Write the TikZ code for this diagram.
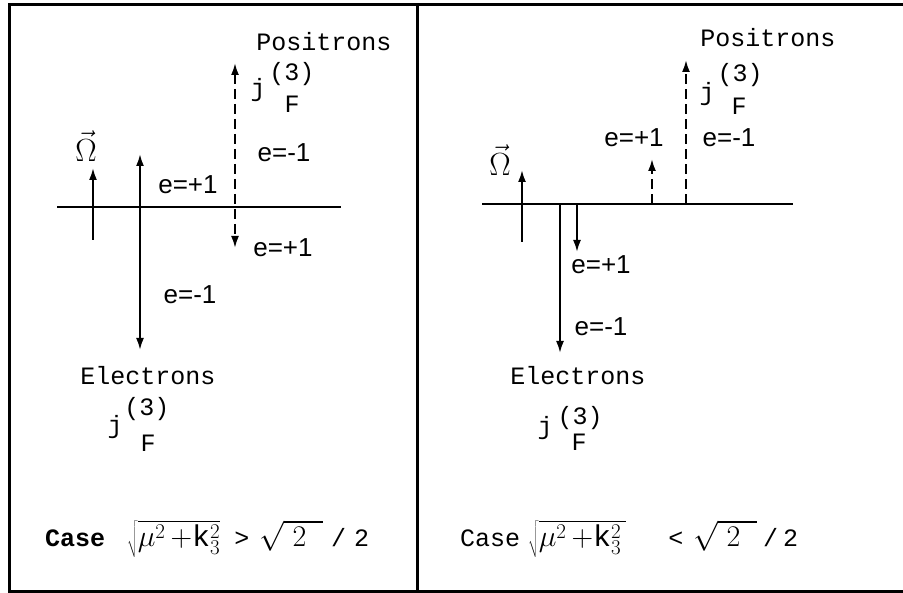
\documentclass[tikz,border=0pt]{standalone}
\usepackage{fix-cm}
\usepackage{fontspec}
\setmainfont{Liberation Mono}
\newfontfamily\lblfont{Liberation Sans}
\usetikzlibrary{arrows.meta,positioning}
\newcommand\bigmath[1]{{\fontsize{30}{34}\selectfont$#1$}}

\begin{document}
\begin{tikzpicture}[x=1pt, y=-1pt,
  txt/.style={font=\fontsize{25}{28}\selectfont, inner sep=0pt},
  sml/.style={font=\fontsize{32}{36}\selectfont, inner sep=0pt},
  lbl/.style={font=\lblfont\fontsize{26}{30}\selectfont, inner sep=0pt},
  frame/.style={line width=3pt},
  axis/.style={line width=2pt},
  arr/.style={-{Latex[length=12pt,width=8pt]}, line width=2pt},
  darr/.style={{Latex[length=12pt,width=8pt]}-{Latex[length=12pt,width=8pt]}, line width=2pt},
  dsh/.style={dash pattern=on 10pt off 5pt}
]
\useasboundingbox (0,0) rectangle (903,593);

% frame of the two panels
\draw[frame] (903,5) -- (9,5) -- (9,591) -- (903,591);
\draw[frame] (417,5) -- (417,591);

% ---- left panel
\draw[axis] (57,207) -- (341,207);
\draw[arr] (93,240) -- (93,168);
\node[sml] (omL) at (86,146) {$\vec{\Omega}$};
\draw[darr] (140,154) -- (140,350);
\draw[darr, dsh] (235,63) -- (235,248);

\node[txt] (posL) at (324,42) {Positrons};
\node[txt] (jpL)  at (258,90) {j};
\node[txt] (tpL)  at (292,74) {(3)};
\node[txt] (fpL)  at (292,104) {F};
\node[lbl] (e1L)  at (284,153) {e=-1};
\node[lbl] (e2L)  at (188,185) {e=+1};
\node[lbl] (e3L)  at (283,248) {e=+1};
\node[lbl] (e4L)  at (190,295) {e=-1};

\node[txt] (eleL) at (148,376) {Electrons};
\node[txt] (jeL)  at (115,427) {j};
\node[txt] (teL)  at (147,409) {(3)};
\node[txt] (feL)  at (148,443) {F};

\node[txt, anchor=base west] (caseL) at (45,547)
  {\textbf{Case}\hspace{22pt}\bigmath{\sqrt{\mathrm{\mu}^{2}\,{+}\mathrm{k}^{2}_{3}}}\hspace{14pt}>\hspace{10pt}\bigmath{\sqrt{\;2\;\;}}\hspace{8pt}/\hspace{8pt}2};

% ---- right panel
\draw[axis] (482,204) -- (793,204);
\draw[arr] (522,242) -- (522,170);
\node[sml] (omR) at (500,160) {$\vec{\Omega}$};
\draw[arr] (560,204) -- (560,353);
\draw[arr] (577,204) -- (577,252);
\draw[arr, dsh] (652,204) -- (652,159);
\draw[arr, dsh] (686,204) -- (686,60);

\node[txt] (posR) at (768,38) {Positrons};
\node[txt] (jpR)  at (707,94) {j};
\node[txt] (tpR)  at (740,75) {(3)};
\node[txt] (fpR)  at (739,106) {F};
\node[lbl] (e1R)  at (634,138) {e=+1};
\node[lbl] (e2R)  at (729,138) {e=-1};
\node[lbl] (e3R)  at (601,265) {e=+1};
\node[lbl] (e4R)  at (601,327) {e=-1};

\node[txt] (eleR) at (578,376) {Electrons};
\node[txt] (jeR)  at (545,428) {j};
\node[txt] (teR)  at (580,418) {(3)};
\node[txt] (feR)  at (579,442) {F};

\node[txt, anchor=base west] (caseR) at (460,547)
  {Case\hspace{8pt}\bigmath{\sqrt{\mathrm{\mu}^{2}\,{+}\mathrm{k}^{2}_{3}\,}}\hspace{42pt}<\hspace{10pt}\bigmath{\sqrt{\;2\;\;}}\hspace{6pt}/\hspace{5pt}2};
\end{tikzpicture}
\end{document}
